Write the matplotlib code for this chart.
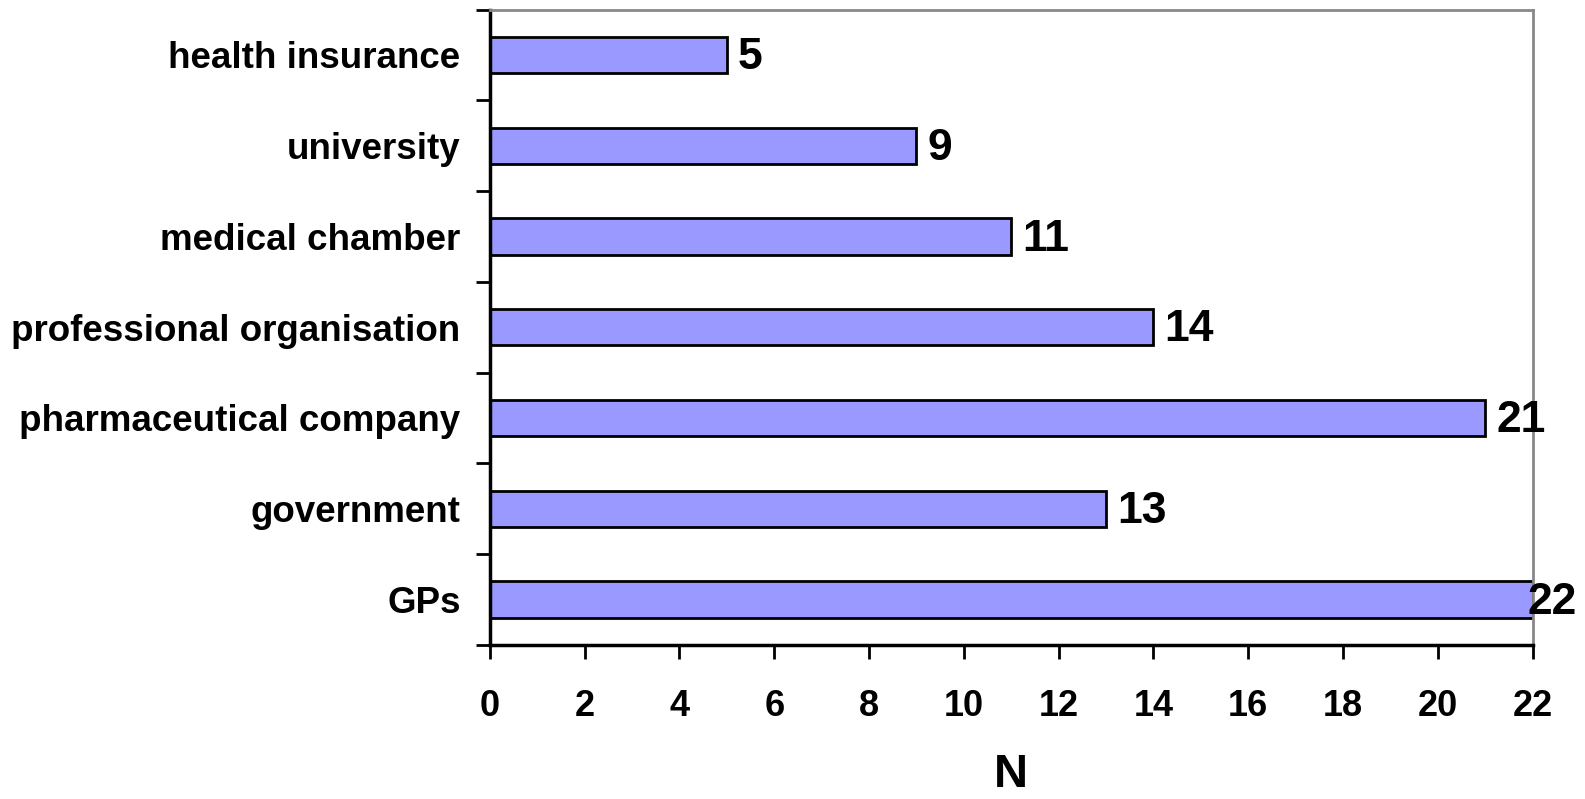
import matplotlib.pyplot as plt
import numpy as np

plt.rcParams['font.family'] = ['Liberation Sans', 'DejaVu Sans']
plt.rcParams['font.weight'] = 'bold'

categories = ['GPs', 'government', 'pharmaceutical company', 'professional organisation',
              'medical chamber', 'university', 'health insurance']
counts = [22, 13, 21, 14, 11, 9, 5]
xticks = list(range(0, 23, 2))

fig = plt.figure(figsize=(15.85, 7.99), dpi=100)
ax = fig.add_axes([0.309, 0.193, 0.658, 0.795])

y = np.arange(len(categories))
ax.barh(y, counts, height=0.4, color='#9999ff', edgecolor='black', linewidth=2)

ax.set_xlim(0, 22)
ax.set_ylim(-0.5, len(categories) - 0.5)
ax.set_xticks(xticks)
ax.set_xticklabels([str(t) for t in xticks], fontsize=26, fontweight='bold')

# category names sit on the bars, ticks go between them
ax.set_yticks(y)
ax.set_yticklabels(categories, fontsize=26.5, fontweight='bold')
ax.tick_params(axis='y', length=0, pad=21)
ax.set_yticks(np.arange(-0.5, len(categories)), minor=True)
ax.tick_params(axis='y', which='minor', length=10, width=2, direction='out')
ax.tick_params(axis='x', length=10, width=2, direction='out', pad=22)

ax.spines['left'].set_linewidth(2.5)
ax.spines['bottom'].set_linewidth(2.5)
ax.spines['top'].set_color('#888888')
ax.spines['right'].set_color('#888888')
ax.spines['top'].set_linewidth(2)
ax.spines['right'].set_linewidth(2)

ax.set_xlabel('N', fontsize=34, fontweight='bold', labelpad=21)

for yi, v in zip(y, counts):
    off = 8 if v < max(counts) else -4
    ax.annotate(str(v), (v, yi), xytext=(off, -2), textcoords='offset points',
                ha='left', va='center', fontsize=32, fontweight='bold',
                annotation_clip=False)

fig.savefig('out.png', dpi=100)
